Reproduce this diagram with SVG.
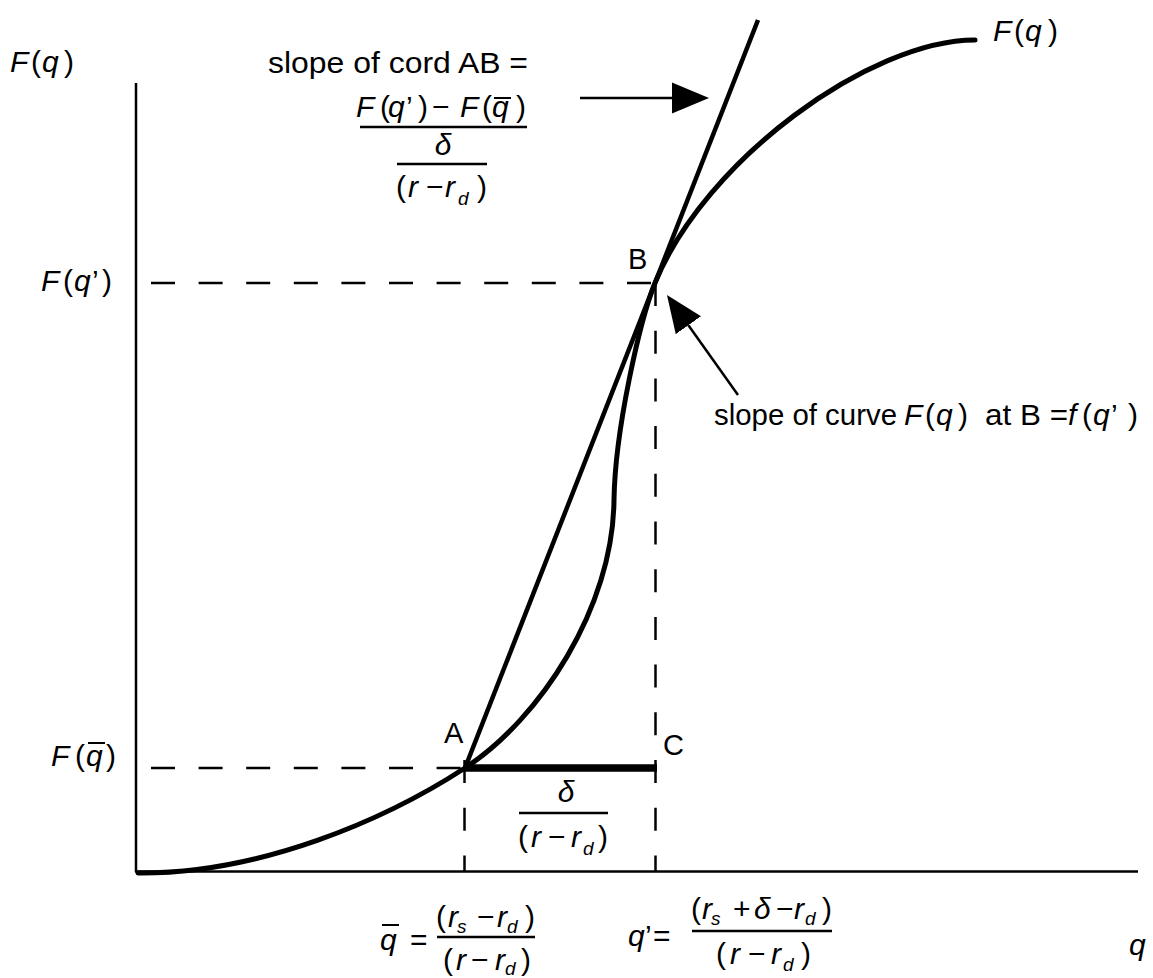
<svg xmlns="http://www.w3.org/2000/svg" width="1153" height="978" viewBox="0 0 1153 978">
<defs>
<style>
text{font-family:"Liberation Sans",Arial,sans-serif;font-size:30px;fill:#000}
.p{font-size:29px}
.i{font-style:italic}
.s{font-size:19px;font-style:italic}
.ax{stroke:#000;stroke-width:2.5;fill:none}
.dash{stroke:#000;stroke-width:2.5;fill:none}
.curve{stroke:#000;stroke-width:5;fill:none;stroke-linecap:round}
.chord{stroke:#000;stroke-width:4.5;fill:none}
.arr{stroke:#000;stroke-width:2.5;fill:none;marker-end:url(#head)}
.bar{stroke:#000;stroke-width:2.5}
.ob{stroke:#000;stroke-width:2}
</style>
<marker id="head" markerUnits="userSpaceOnUse" markerWidth="38" markerHeight="32" refX="0" refY="16" orient="auto" viewBox="0 0 38 32"><path d="M0,0.5 L37,16 L0,31.5 Z" fill="#000"/></marker>
</defs>
<rect width="1153" height="978" fill="#fff"/>

<g id="axes">
<line class="ax" x1="136" y1="83" x2="136" y2="872"/>
<line class="ax" x1="135" y1="871.5" x2="1138" y2="871.5"/>
</g>

<g id="guides">
<line class="dash" x1="151" y1="283" x2="655" y2="283" stroke-dasharray="24 23.6"/>
<line class="dash" x1="151" y1="768" x2="465" y2="768" stroke-dasharray="24 23.6"/>
<line class="dash" x1="655.5" y1="283" x2="655.5" y2="871" stroke-dasharray="23 24.7"/>
<line class="dash" x1="464.5" y1="760" x2="464.5" y2="871" stroke-dasharray="23 24.7"/>
<line stroke="#000" stroke-width="7.5" x1="465" y1="768" x2="657" y2="768"/>
</g>

<g id="curve-F">
<path class="curve" d="M138,873 C260,874 385,820 465,768 C540,719 613,608 614,500 C615,430 640,320 655,283 C705,160 870,40 975,40"/>
</g>

<g id="chord-AB">
<line class="chord" x1="465" y1="768" x2="758" y2="20"/>
</g>

<g id="connectors">
<line class="arr" x1="580" y1="98" x2="672" y2="98"/>
<line class="arr" x1="738" y1="395" x2="688.4" y2="325.2"/>
</g>

<g id="label-Fq-axis">
<text y="72"><tspan class="i" x="10">F</tspan><tspan x="31">(</tspan><tspan class="i" x="42">q</tspan><tspan x="64">)</tspan></text>
</g>
<g id="label-Fq-curve">
<text y="41"><tspan class="i" x="993">F</tspan><tspan x="1014">(</tspan><tspan class="i" x="1025">q</tspan><tspan x="1048">)</tspan></text>
</g>

<g id="label-slope-cord">
<text class="p" x="268" y="73" textLength="260" lengthAdjust="spacingAndGlyphs">slope of cord AB =</text>
<text y="117"><tspan class="i" x="356">F</tspan><tspan x="380">(</tspan><tspan class="i" x="388">q</tspan><tspan x="406">’</tspan><tspan x="418">)</tspan><tspan x="432">−</tspan><tspan class="i" x="460">F</tspan><tspan x="482">(</tspan><tspan class="i" x="492">q</tspan><tspan x="516">)</tspan></text>
<line class="ob" x1="494" y1="98" x2="511" y2="98"/>
<line class="bar" x1="360" y1="127" x2="527" y2="127"/>
<text class="i" x="443" y="155" text-anchor="middle">δ</text>
<line class="bar" x1="397" y1="164" x2="487" y2="164"/>
<text y="197"><tspan x="396">(</tspan><tspan class="i" x="408">r</tspan><tspan x="426">−</tspan><tspan class="i" x="445">r</tspan><tspan class="s" x="458" y="205">d</tspan><tspan x="477" y="197">)</tspan></text>
</g>

<g id="label-slope-curve">
<text class="p" x="714" y="425" textLength="183" lengthAdjust="spacingAndGlyphs">slope of curve</text>
<text y="425"><tspan class="i" x="904">F</tspan><tspan x="925">(</tspan><tspan class="i" x="936">q</tspan><tspan x="958">)</tspan></text>
<text class="p" x="985" y="425" textLength="83" lengthAdjust="spacingAndGlyphs">at B =</text>
<text y="425"><tspan class="i" x="1068">f</tspan><tspan x="1082">(</tspan><tspan class="i" x="1093">q</tspan><tspan x="1111">’</tspan><tspan x="1128">)</tspan></text>
</g>

<g id="label-Fqprime">
<text y="291"><tspan class="i" x="41">F</tspan><tspan x="63">(</tspan><tspan class="i" x="74">q</tspan><tspan x="92">’</tspan><tspan x="102">)</tspan></text>
</g>
<g id="label-Fqbar">
<text y="766"><tspan class="i" x="51">F</tspan><tspan x="75">(</tspan><tspan class="i" x="86">q</tspan><tspan x="106">)</tspan></text>
<line class="ob" x1="88" y1="743" x2="105" y2="743"/>
</g>

<g id="point-A"><text class="p" x="444" y="743">A</text></g>
<g id="point-B"><text class="p" x="628" y="269">B</text></g>
<g id="point-C"><text class="p" x="663" y="755">C</text></g>

<g id="label-delta-width">
<text class="i" x="566" y="802" text-anchor="middle">δ</text>
<line class="bar" x1="519" y1="813" x2="608" y2="813"/>
<text y="847"><tspan x="518">(</tspan><tspan class="i" x="531">r</tspan><tspan x="548">−</tspan><tspan class="i" x="571">r</tspan><tspan class="s" x="583" y="855">d</tspan><tspan x="598" y="847">)</tspan></text>
</g>

<g id="label-qbar">
<text class="i" x="380" y="950">q</text>
<line class="ob" x1="382" y1="925" x2="399" y2="925"/>
<text x="410" y="950">=</text>
<text y="927"><tspan x="436">(</tspan><tspan class="i" x="448">r</tspan><tspan class="s" x="457" y="933">s</tspan><tspan x="477" y="927">−</tspan><tspan class="i" x="497">r</tspan><tspan class="s" x="507" y="933">d</tspan><tspan x="525" y="927">)</tspan></text>
<line class="bar" x1="437" y1="937" x2="535" y2="937"/>
<text y="970"><tspan x="443">(</tspan><tspan class="i" x="456">r</tspan><tspan x="471">−</tspan><tspan class="i" x="495">r</tspan><tspan class="s" x="505" y="975">d</tspan><tspan x="521" y="970">)</tspan></text>
</g>

<g id="label-qprime">
<text y="946"><tspan class="i" x="628">q</tspan><tspan x="645">’</tspan><tspan x="653">=</tspan></text>
<text y="919"><tspan x="691">(</tspan><tspan class="i" x="702">r</tspan><tspan class="s" x="711" y="925">s</tspan><tspan x="733" y="919">+</tspan><tspan class="i" x="754">δ</tspan><tspan x="776">−</tspan><tspan class="i" x="794">r</tspan><tspan class="s" x="805" y="925">d</tspan><tspan x="822" y="919">)</tspan></text>
<line class="bar" x1="692" y1="931" x2="832" y2="931"/>
<text y="964"><tspan x="716">(</tspan><tspan class="i" x="730">r</tspan><tspan x="748">−</tspan><tspan class="i" x="771">r</tspan><tspan class="s" x="783" y="971">d</tspan><tspan x="801" y="964">)</tspan></text>
</g>

<g id="label-q-axis">
<text class="i" x="1129" y="955">q</text>
</g>
</svg>
